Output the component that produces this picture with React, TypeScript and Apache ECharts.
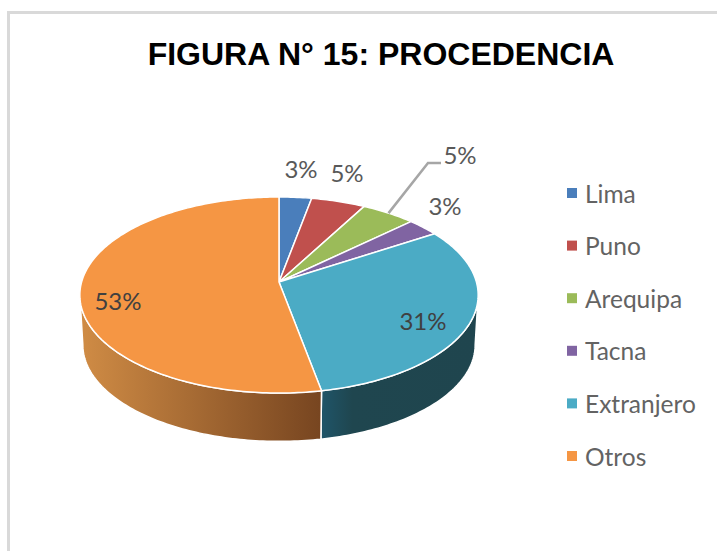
import React, { useEffect, useRef } from "react";
import * as echarts from "echarts";

const TITLE = "FIGURA N° 15: PROCEDENCIA";
const CATEGORIES = ["Lima", "Puno", "Arequipa", "Tacna", "Extranjero", "Otros"];
const VALUES = [3, 5, 5, 3, 31, 53];
const COLORS = ["#4a7ebb", "#c0504d", "#9bbb59", "#8064a2", "#4babc5", "#f59644"];
const LABEL_POSITIONS = [
  [301, 168],
  [347, 172],
  [460, 154],
  [445, 205],
  [423, 320],
  [118, 300],
];
const LABEL_COLORS = ["#595959", "#595959", "#595959", "#595959", "#404040", "#404040"];
const FONT = "Lato, 'Noto Sans', sans-serif";

// Perspective projection of the unit disc on to the page.
const CX = 279;
const CY = 282;
const A = 197.4;
const B = 96.3;
const P = 0.1327;
const DEPTH = 50;
const BOTTOM_SCALE = 0.985;
const SIDE_START = 97.6;
const SIDE_END = 262.4;

const project = (deg: number) => {
  const t = (deg * Math.PI) / 180;
  const w = 1 + P * Math.cos(t);
  return [(A * Math.sin(t)) / w, (-B * Math.cos(t)) / w];
};
const top = (deg: number) => {
  const [x, y] = project(deg);
  return [CX + x, CY + y];
};
const bottom = (deg: number) => {
  const [x, y] = project(deg);
  return [CX + x * BOTTOM_SCALE, CY + DEPTH + y * BOTTOM_SCALE];
};
const arc = (fn: (d: number) => number[], a: number, b: number) => {
  const pts: number[][] = [];
  const n = Math.max(2, Math.ceil(Math.abs(b - a)));
  for (let i = 0; i <= n; i++) pts.push(fn(a + ((b - a) * i) / n));
  return pts;
};

const total = VALUES.reduce((s, v) => s + v, 0);
const startAngle = (i: number) => (VALUES.slice(0, i).reduce((s, v) => s + v, 0) / total) * 360;

const sideFill = (i: number) =>
  i === 5
    ? new echarts.graphic.LinearGradient(0, 0, 1, 0, [
        { offset: 0, color: "#d08c45" },
        { offset: 1, color: "#774520" },
      ])
    : new echarts.graphic.LinearGradient(0, 0, 1, 0, [
        { offset: 0, color: "#1f5569" },
        { offset: 0.2, color: "#1f464f" },
        { offset: 1, color: "#1f454e" },
      ]);

const renderSlice = (i: number) => () => {
  const a0 = startAngle(i);
  const a1 = startAngle(i + 1);
  const children: any[] = [];
  const s0 = Math.max(a0, SIDE_START);
  const s1 = Math.min(a1, SIDE_END);
  if (s1 > s0) {
    children.push({
      type: "polygon",
      shape: { points: [...arc(top, s0, s1), ...arc(bottom, s1, s0)] },
      style: { fill: sideFill(i), stroke: "#ffffff", lineWidth: 1.5 },
    });
  }
  children.push({
    type: "polygon",
    shape: { points: [[CX, CY], ...arc(top, a0, a1)] },
    style: { fill: COLORS[i], stroke: "#ffffff", lineWidth: 1.5, lineJoin: "round" },
  });
  if (CATEGORIES[i] === "Arequipa") {
    children.push({
      type: "polyline",
      shape: { points: [top((a0 + a1) / 2), [428, 163], [441, 163]] },
      style: { fill: "none", stroke: "#a6a6a6", lineWidth: 2.5 },
    });
  }
  children.push({
    type: "text",
    style: {
      text: `${VALUES[i]}%`,
      x: LABEL_POSITIONS[i][0],
      y: LABEL_POSITIONS[i][1],
      align: "center",
      verticalAlign: "middle",
      fill: LABEL_COLORS[i],
      font: `24px ${FONT}`,
    },
  });
  return { type: "group", children };
};

export default function App() {
  const ref = useRef<HTMLDivElement>(null);
  useEffect(() => {
    const chart = echarts.init(ref.current!, undefined, { renderer: "svg" });
    chart.setOption({
      animation: false,
      backgroundColor: "#ffffff",
      title: {
        text: TITLE,
        left: 376,
        top: 33,
        textAlign: "center",
        textStyle: {
          fontFamily: "'Liberation Sans', Arial, sans-serif",
          fontWeight: "bold",
          fontSize: 32,
          color: "#000000",
        },
      },
      legend: {
        orient: "vertical",
        left: 562,
        top: 174,
        itemWidth: 10,
        itemHeight: 10,
        itemGap: 24.6,
        icon: "rect",
        selectedMode: false,
        textStyle: {
          fontFamily: FONT,
          fontSize: 24.5,
          lineHeight: 28,
          color: "#636363",
          padding: [0, 0, 0, 3],
        },
        data: CATEGORIES.map((name, i) => ({ name, itemStyle: { color: COLORS[i] } })),
      },
      graphic: [
        { type: "rect", silent: true, shape: { x: 7, y: 11, width: 710, height: 3 }, style: { fill: "#d9d9d9" } },
        { type: "rect", silent: true, shape: { x: 7, y: 11, width: 3, height: 540 }, style: { fill: "#d9d9d9" } },
      ],
      series: CATEGORIES.map((name, i) => ({
        type: "custom",
        name,
        coordinateSystem: "none",
        silent: true,
        itemStyle: { color: COLORS[i] },
        renderItem: renderSlice(i),
        data: [VALUES[i]],
      })),
    });
    return () => chart.dispose();
  }, []);
  return <div ref={ref} style={{ position: "absolute", left: 0, top: 0, width: 717, height: 551 }} />;
}
